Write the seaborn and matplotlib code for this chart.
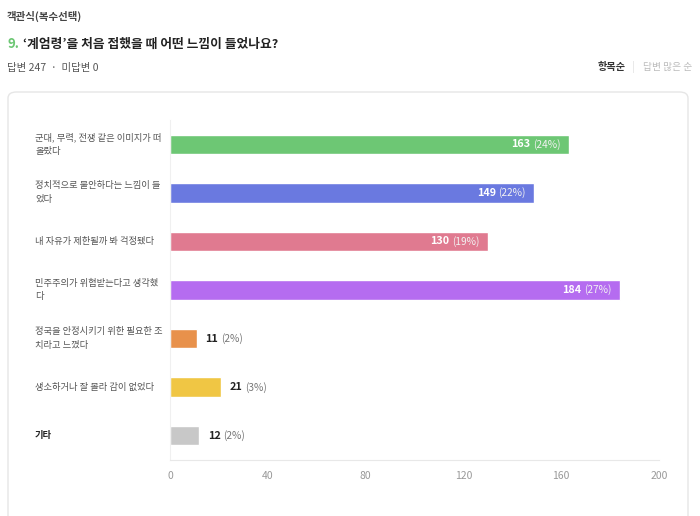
import matplotlib
matplotlib.use('Agg')
import matplotlib.pyplot as plt
import seaborn as sns
from matplotlib.patches import FancyBboxPatch
from matplotlib.text import Annotation

# Data
labels = [
    '군대, 무력, 전쟁 같은 이미지가 떠\n올랐다',
    '정치적으로 불안하다는 느낌이 들\n었다',
    '내 자유가 제한될까 봐 걱정됐다',
    '민주주의가 위협받는다고 생각했\n다',
    '정국을 안정시키기 위한 필요한 조\n치라고 느꼈다',
    '생소하거나 잘 몰라 감이 없었다',
    '기타',
]
counts = [163, 149, 130, 184, 11, 21, 12]
pcts = [24, 22, 19, 27, 2, 3, 2]
colors = ['#6DC774', '#6A79E0', '#E07A90', '#B56CF0', '#E8914B', '#F0C644', '#C8C8C8']
xticks = [0, 40, 80, 120, 160, 200]

sns.set_style('white')
plt.rcParams['font.family'] = ['Noto Sans CJK KR', 'DejaVu Sans']

fig = plt.figure(figsize=(7, 5.16), dpi=100)
W, H = 700, 516

# card background
card = FancyBboxPatch((8 / W, -0.05), 680 / W, (516 - 92) / H + 0.05,
                      boxstyle='round,pad=0,rounding_size=0.012',
                      transform=fig.transFigure, facecolor='white',
                      edgecolor='#E6E6E6', linewidth=1.0, zorder=-10)
fig.patches.append(card)

ax = fig.add_axes([170 / W, 1 - 460 / H, 489 / W, 340 / H])
ax.set_facecolor('none')

sns.barplot(x=counts, y=labels, hue=labels, palette=colors, legend=False,
            width=0.4, orient='h', ax=ax, saturation=1)

ax.set_xlim(0, 200)
ax.set_ylim(6.5, -0.5)
ax.set_xticks(xticks)
ax.set_xticklabels([str(t) for t in xticks], color='#999999', fontsize=7.5)
ax.tick_params(axis='x', length=0, pad=8)
ax.set_yticks([])
ax.set_xlabel('')
ax.set_ylabel('')
for s in ['top', 'right']:
    ax.spines[s].set_visible(False)
ax.spines['left'].set_color('#F0F0F0')
ax.spines['bottom'].set_color('#E8E8E8')
ax.spines['left'].set_linewidth(0.8)
ax.spines['bottom'].set_linewidth(0.8)

# category labels
ytr = ax.get_yaxis_transform()
for i, lab in enumerate(labels):
    last = i == len(labels) - 1
    ax.text((35 - 170) / 489, i, lab, transform=ytr, ha='left', va='center',
            fontsize=6.7, color='#222222' if last else '#555555',
            fontweight='bold' if last else 'normal', linespacing=1.7)

# value labels
for i, (c, p) in enumerate(zip(counts, pcts)):
    if c > 60:
        t1 = ax.annotate(f'({p}%)', xy=(c, i), xytext=(-6, 0),
                         textcoords='offset points', ha='right', va='center',
                         fontsize=7.3, color='#F2F2F2')
        ax.annotate(str(c), xy=(0, 0.5), xycoords=t1, xytext=(-2, 0),
                    textcoords='offset points', ha='right', va='center',
                    fontsize=7.8, fontweight='bold', color='white')
    else:
        t1 = ax.annotate(str(c), xy=(c, i), xytext=(6, 0),
                         textcoords='offset points', ha='left', va='center',
                         fontsize=7.8, fontweight='bold', color='#222222')
        ax.annotate(f'({p}%)', xy=(1, 0.5), xycoords=t1, xytext=(2, 0),
                    textcoords='offset points', ha='left', va='center',
                    fontsize=7.3, color='#777777')

# header texts
fig.text(7 / W, 1 - 16 / H, '객관식(복수선택)', fontsize=7.5, color='#444444',
         fontweight='bold', va='center', ha='left')
t9 = fig.text(7 / W, 1 - 44 / H, '9.', fontsize=9.5, color='#6DC774',
              fontweight='bold', va='center', ha='left')
title = Annotation('‘계엄령’을 처음 접했을 때 어떤 느낌이 들었나요?', xy=(1, 0.5),
                   xycoords=t9, xytext=(3, 0), textcoords='offset points',
                   ha='left', va='center', fontsize=9.2, color='#222222',
                   fontweight='bold')
fig.add_artist(title)
fig.text(7 / W, 1 - 68 / H, '답변 247  ·  미답변 0', fontsize=7.5, color='#555555',
         va='center', ha='left')

fig.text(626 / W, 1 - 67 / H, '항목순', fontsize=7.3, color='#333333',
         fontweight='bold', va='center', ha='right')
fig.text(633 / W, 1 - 67 / H, '|', fontsize=7, color='#DDDDDD', va='center', ha='center')
fig.text(643 / W, 1 - 67 / H, '답변 많은 순', fontsize=7, color='#BBBBBB',
         va='center', ha='left')

fig.savefig('out.png', dpi=100)
